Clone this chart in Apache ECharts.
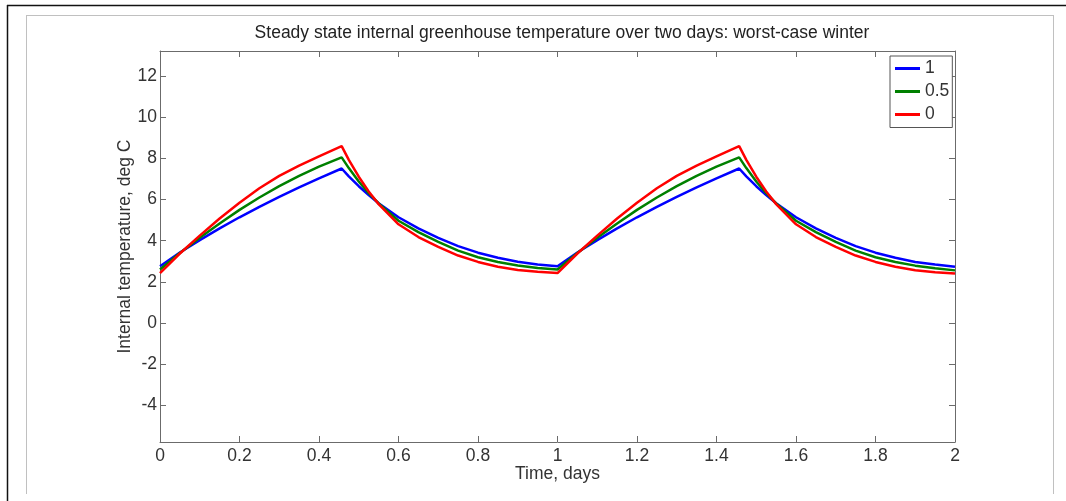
<!DOCTYPE html>
<html>
<head>
<meta charset="utf-8">
<script src="https://cdn.jsdelivr.net/npm/echarts@6/dist/echarts.min.js"></script>
<style>
html,body{margin:0;padding:0;background:#fff;}
#chart{width:1066px;height:501px;}
</style>
</head>
<body>
<div id="chart"></div>
<script>
// Time in days
const days = [0,0.05,0.1,0.15,0.2,0.25,0.3,0.35,0.4,0.457,
  0.475,0.5,0.525,0.55,0.6,0.65,0.7,0.75,0.8,0.85,0.9,0.95,1.0,
  1.05,1.1,1.15,1.2,1.25,1.3,1.35,1.4,1.457,
  1.475,1.5,1.525,1.55,1.6,1.65,1.7,1.75,1.8,1.85,1.9,1.95,2.0];
// Series "1" (blue)
const temp1 = [2.76,3.43,4.03,4.60,5.14,5.65,6.13,6.59,7.03,7.51,
  7.13,6.65,6.22,5.82,5.14,4.6,4.14,3.74,3.42,3.17,2.98,2.85,2.76,
  3.43,4.03,4.60,5.14,5.65,6.13,6.59,7.03,7.51,
  7.13,6.65,6.22,5.82,5.14,4.6,4.14,3.74,3.42,3.17,2.97,2.84,2.74];
// Series "0.5" (green)
const temp05 = [2.6,3.4,4.14,4.84,5.5,6.1,6.65,7.15,7.6,8.05,
  7.53,6.88,6.31,5.81,4.97,4.42,3.94,3.52,3.2,2.97,2.8,2.68,2.6,
  3.4,4.14,4.84,5.5,6.1,6.65,7.15,7.6,8.05,
  7.53,6.88,6.31,5.81,4.97,4.42,3.94,3.52,3.2,2.97,2.79,2.66,2.56];
// Series "0" (red)
const temp0 = [2.43,3.38,4.25,5.08,5.85,6.55,7.15,7.65,8.1,8.6,
  7.93,7.11,6.39,5.78,4.8,4.18,3.7,3.28,2.97,2.74,2.58,2.49,2.43,
  3.38,4.25,5.08,5.85,6.55,7.15,7.65,8.1,8.6,
  7.93,7.11,6.39,5.78,4.8,4.18,3.7,3.28,2.97,2.74,2.57,2.47,2.41];
const seriesNames = ['1','0.5','0'];
const yTicks = [-4,-2,0,2,4,6,8,10,12];
const titleText = 'Steady state internal greenhouse temperature over two days: worst-case winter';
const xName = 'Time, days';
const yName = 'Internal temperature, deg C';

const FONT = "'Liberation Sans', Arial, sans-serif";
const FS = 17.5;
const AX = '#6b6b6b';
const TXT = '#333';
const pair = (vals) => days.map((d,i)=>[d, vals[i]]);

const chart = echarts.init(document.getElementById('chart'), null, {renderer:'canvas'});
const ymin = -5.78, ymax = 13.22;
chart.setOption({
  animation:false,
  backgroundColor:'#fff',
  title:{text:titleText,left:557,top:19,textAlign:'center',
    textStyle:{fontFamily:FONT,fontSize:FS,fontWeight:'normal',color:'#222'}},
  grid:{left:160,right:111,top:51,bottom:59,containLabel:false},
  legend:{
    orient:'vertical',left:890,top:56,
    padding:[3.5,3,4,5],itemGap:5,itemWidth:25,itemHeight:3,
    icon:'rect',
    borderColor:'#555',borderWidth:1,backgroundColor:'#fff',
    textStyle:{fontFamily:FONT,fontSize:FS,lineHeight:FS,color:TXT},
    data:seriesNames
  },
  xAxis:[{
    type:'value',min:0,max:2,interval:0.2,position:'bottom',
    name:xName,nameLocation:'middle',nameGap:23,nameMoveOverlap:false,
    nameTextStyle:{fontFamily:FONT,fontSize:FS,color:TXT},
    axisLine:{show:true,onZero:false,lineStyle:{color:AX,width:1}},
    axisTick:{show:true,inside:true,length:6,lineStyle:{color:AX}},
    axisLabel:{fontFamily:FONT,fontSize:FS,color:TXT,margin:5,
      formatter:v=>String(+v.toFixed(1))},
    splitLine:{show:false}
  },{
    type:'value',min:0,max:2,interval:0.2,position:'top',
    axisLine:{show:true,onZero:false,lineStyle:{color:AX,width:1}},
    axisTick:{show:true,inside:true,length:6,lineStyle:{color:AX}},
    axisLabel:{show:false},splitLine:{show:false}
  }],
  yAxis:[{
    type:'value',min:ymin,max:ymax,position:'left',
    name:yName,nameLocation:'middle',nameGap:26,nameRotate:90,nameMoveOverlap:false,
    nameTextStyle:{fontFamily:FONT,fontSize:FS,color:TXT},
    axisLine:{show:true,onZero:false,lineStyle:{color:AX,width:1}},
    axisTick:{show:true,inside:true,length:6,lineStyle:{color:AX},customValues:yTicks},
    axisLabel:{fontFamily:FONT,fontSize:FS,color:TXT,margin:3,customValues:yTicks},
    splitLine:{show:false}
  },{
    type:'value',min:ymin,max:ymax,position:'right',
    axisLine:{show:true,onZero:false,lineStyle:{color:AX,width:1}},
    axisTick:{show:true,inside:true,length:6,lineStyle:{color:AX},customValues:yTicks},
    axisLabel:{show:false,customValues:yTicks},splitLine:{show:false}
  }],
  series:[
    {name:seriesNames[0],type:'line',data:pair(temp1),symbol:'none',
      lineStyle:{color:'#0000ff',width:2.5},itemStyle:{color:'#0000ff'},z:2},
    {name:seriesNames[1],type:'line',data:pair(temp05),symbol:'none',
      lineStyle:{color:'#008000',width:2.5},itemStyle:{color:'#008000'},z:3},
    {name:seriesNames[2],type:'line',data:pair(temp0),symbol:'none',
      lineStyle:{color:'#ff0000',width:2.5},itemStyle:{color:'#ff0000'},z:4}
  ],
  graphic:[
    {type:'line',shape:{x1:7,y1:5.5,x2:1066,y2:5.5},style:{stroke:'#111',lineWidth:1.5},silent:true},
    {type:'line',shape:{x1:7.5,y1:5,x2:7.5,y2:501},style:{stroke:'#111',lineWidth:1.5},silent:true},
    {type:'line',shape:{x1:26,y1:15.5,x2:1054,y2:15.5},style:{stroke:'#c0c0c0',lineWidth:1},silent:true},
    {type:'line',shape:{x1:26.5,y1:15,x2:26.5,y2:494},style:{stroke:'#c0c0c0',lineWidth:1},silent:true},
    {type:'line',shape:{x1:1053.5,y1:15,x2:1053.5,y2:494},style:{stroke:'#c0c0c0',lineWidth:1},silent:true}
  ]
});
</script>
</body>
</html>
